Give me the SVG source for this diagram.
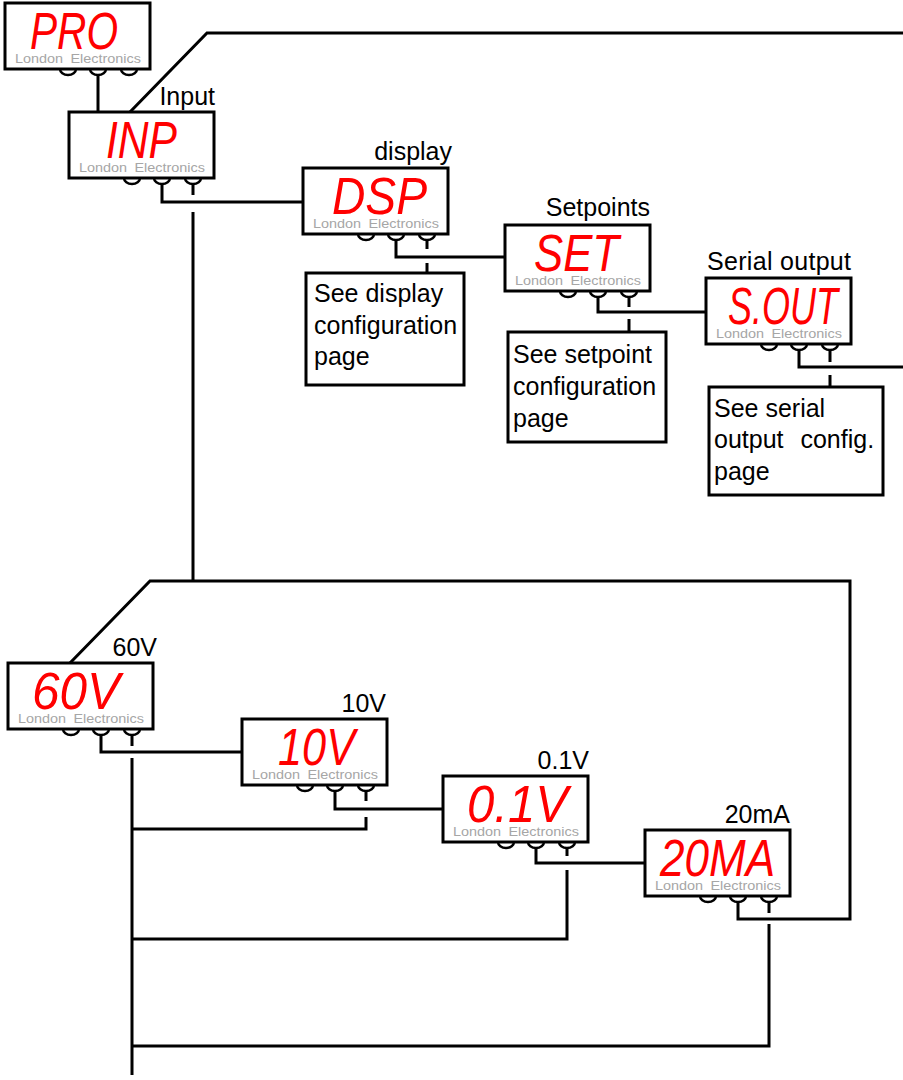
<svg xmlns="http://www.w3.org/2000/svg" xmlns:xlink="http://www.w3.org/1999/xlink" width="903" height="1080" viewBox="0 0 903 1080">
<style>
.box{fill:#fff;stroke:#000;stroke-width:3}
.btn{fill:#fff;stroke:#000;stroke-width:2.5}
.brand{font-family:"Liberation Sans",Arial,sans-serif;font-size:13px;fill:#a6a6a6;word-spacing:3px}
.seg{font-family:"Liberation Sans",Arial,sans-serif;font-style:italic;font-size:52px;fill:#ff0000}
.lbl{font-family:"Liberation Sans",Arial,sans-serif;font-size:25px;fill:#000;text-anchor:end}
.txt{font-family:"Liberation Sans",Arial,sans-serif;font-size:25px;fill:#000}
.wire{fill:none;stroke:#000;stroke-width:3}
</style>
<defs>
<g id="unit">
<path class="btn" d="M55,66 a8,6 0 0 0 16,0 M85,66 a8,6 0 0 0 16,0 M116,66 a8,6 0 0 0 16,0"/>
<rect class="box" x="0" y="0" width="145" height="66"/>
<text class="brand" x="10" y="60" textLength="126" lengthAdjust="spacingAndGlyphs">London Electronics</text>
</g>
</defs>
<rect width="903" height="1080" fill="#fff"/>
<g id="connectors" class="wire">
<path d="M98,75 V112"/>
<path d="M130,112 L207,33 H903"/>
<path d="M162,184 V202 H303"/>
<path d="M193,184 V195 M193,212 V581"/>
<path d="M70,663 L150,581 H850 V919 H738 V902"/>
<path d="M396,240 V257 H505 M427,240 V249 M427,263 V273"/>
<path d="M598,297 V312 H706 M629,297 V307 M629,319 V332"/>
<path d="M799,350 V367 H903 M830,350 V362 M830,375 V387"/>
<path d="M101,735 V752 H242 M132,735 V746 M132,758 V1075"/>
<path d="M335,791 V809 H443 M366,791 V801 M366,817 V829 H132"/>
<path d="M536,848 V863 H645 M567,848 V856 M567,870 V939 H132"/>
<path d="M769,902 V913 M769,924 V1046 H132"/>
</g>
<g id="node-pro" transform="translate(5,3)">
<use xlink:href="#unit"/>
<text class="seg" x="25" y="46" textLength="88" lengthAdjust="spacingAndGlyphs">PRO</text>
</g>
<g id="node-inp" transform="translate(69,112)">
<use xlink:href="#unit"/>
<text class="seg" x="37" y="46" textLength="71" lengthAdjust="spacingAndGlyphs">INP</text>
</g>
<text class="lbl" x="215" y="105">Input</text>
<g id="node-dsp" transform="translate(303,168)">
<use xlink:href="#unit"/>
<text class="seg" x="29" y="46" textLength="95" lengthAdjust="spacingAndGlyphs">DSP</text>
</g>
<text class="lbl" x="452" y="160">display</text>
<g id="node-set" transform="translate(505,225)">
<use xlink:href="#unit"/>
<text class="seg" x="29" y="46" textLength="85" lengthAdjust="spacingAndGlyphs">SET</text>
</g>
<text class="lbl" x="650" y="216">Setpoints</text>
<g id="node-sout" transform="translate(706,278)">
<use xlink:href="#unit"/>
<text class="seg" x="22" y="46" textLength="110" lengthAdjust="spacingAndGlyphs">S.OUT</text>
</g>
<text class="lbl" x="851" y="270" textLength="144">Serial output</text>
<g id="note-display">
<rect class="box" x="306" y="273" width="158" height="112"/>
<text class="txt" x="314" y="302">See display</text>
<text class="txt" x="314" y="334">configuration</text>
<text class="txt" x="314" y="365">page</text>
</g>
<g id="note-setpoint">
<rect class="box" x="508" y="332" width="158" height="110"/>
<text class="txt" x="513" y="363">See setpoint</text>
<text class="txt" x="513" y="395">configuration</text>
<text class="txt" x="513" y="427">page</text>
</g>
<g id="note-serial">
<rect class="box" x="709" y="387" width="174" height="108"/>
<text class="txt" x="714" y="417">See serial</text>
<text class="txt" x="714" y="448" word-spacing="10">output config.</text>
<text class="txt" x="714" y="480">page</text>
</g>
<g id="node-60v" transform="translate(8,663)">
<use xlink:href="#unit"/>
<text class="seg" x="24" y="46" textLength="88" lengthAdjust="spacingAndGlyphs">60V</text>
</g>
<text class="lbl" x="157" y="656">60V</text>
<g id="node-10v" transform="translate(242,719)">
<use xlink:href="#unit"/>
<text class="seg" x="36" y="46" textLength="77" lengthAdjust="spacingAndGlyphs">10V</text>
</g>
<text class="lbl" x="386" y="712">10V</text>
<g id="node-01v" transform="translate(443,776)">
<use xlink:href="#unit"/>
<text class="seg" x="24" y="46" textLength="101" lengthAdjust="spacingAndGlyphs">0.1V</text>
</g>
<text class="lbl" x="589" y="769">0.1V</text>
<g id="node-20ma" transform="translate(645,830)">
<use xlink:href="#unit"/>
<text class="seg" x="15" y="46" textLength="115" lengthAdjust="spacingAndGlyphs">20MA</text>
</g>
<text class="lbl" x="790" y="823">20mA</text>
</svg>
